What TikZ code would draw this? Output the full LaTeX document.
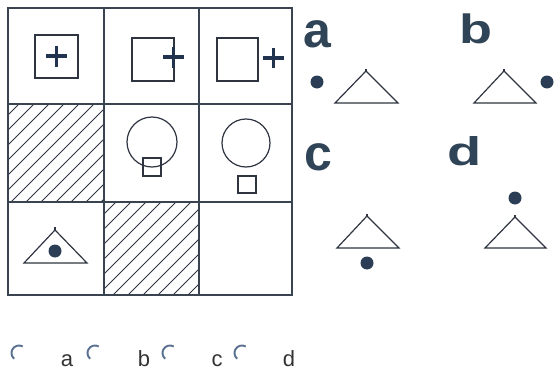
\documentclass[tikz,border=0pt]{standalone}
\usepackage{fontspec}
\setmainfont{Liberation Sans}
\begin{document}
\begin{tikzpicture}[x=1pt,y=-1pt,
  gridline/.style={draw=gridc,line width=2.8pt},
  thin/.style={draw=shapec,line width=1.2pt},
  hatch/.style={draw=shapec,line width=1pt},
  plus/.style={draw=plusc,line width=3.8pt},
  dot/.style={fill=dotc},
  optlabel/.style={font=\fontsize{50}{50}\selectfont\bfseries,text=labc,inner sep=0pt,anchor=base},
  radiolabel/.style={font=\fontsize{22}{22}\selectfont,text=radc,inner sep=0pt,anchor=base},
  radio/.style={draw=arcc,line width=1.9pt}]
\definecolor{gridc}{HTML}{3A4450}
\definecolor{shapec}{HTML}{2E3540}
\definecolor{plusc}{HTML}{22334F}
\definecolor{dotc}{HTML}{2B3E55}
\definecolor{labc}{HTML}{2F4456}
\definecolor{radc}{HTML}{333333}
\definecolor{arcc}{HTML}{5A7090}
\useasboundingbox (0,0) rectangle (555,372);
% hatching
\begin{scope}
  \clip (8,104) rectangle (104,202);
  \foreach \k in {-1,...,13}{
    \pgfmathsetmacro{\c}{123+15*\k}
    \draw[hatch] (\c-215,215) -- (\c-90,90);
  }
\end{scope}
\begin{scope}
  \clip (104,202) rectangle (199,295);
  \foreach \k in {-1,...,13}{
    \pgfmathsetmacro{\c}{318+15*\k}
    \draw[hatch] (\c-310,310) -- (\c-190,190);
  }
\end{scope}
% grid
\draw[gridline] (8,8) rectangle (292,295);
\draw[gridline] (104,8) -- (104,295);
\draw[gridline] (199,8) -- (199,295);
\draw[gridline] (8,104) -- (292,104);
\draw[gridline] (8,202) -- (292,202);
% row 1
\draw[thin] (35,35) rectangle (78,78);
\draw[plus] (46,56) -- (67,56) (56.5,46) -- (56.5,67);
\draw[thin] (132,38) rectangle (174,81);
\draw[plus] (163,57) -- (184,57) (173.5,47) -- (173.5,68);
\draw[thin] (217,38) rectangle (258,81);
\draw[plus] (263,58) -- (284,58) (273.5,48) -- (273.5,68);
% row 2
\draw[thin] (143,158) rectangle (161,176);
\draw[thin] (152,142) circle (25);
\draw[thin] (246,143) circle (24);
\draw[thin] (238,176) rectangle (256,193);
% row 3
\draw[thin] (24,263) -- (55,230) -- (87,263) -- cycle;
\draw[thin] (55,230) -- (55,227);
\fill[dot] (55,251) circle (6.5);
% options
\node[optlabel] (la) at (317.5,47) {a};
\node[optlabel] (lb) at (475.5,43) {\scalebox{1.08}[0.82]{b}};
\node[optlabel] (lc) at (318,170) {c};
\node[optlabel] (ld) at (464.5,165) {\scalebox{1.12}[0.8]{d}};
% a
\fill[dot] (317,82) circle (6.5);
\draw[thin] (335,103) -- (366,71) -- (398,103) -- cycle;
\draw[thin] (366,71) -- (366,69);
% b
\draw[thin] (474,103) -- (504,71) -- (536,103) -- cycle;
\draw[thin] (504,71) -- (504,69);
\fill[dot] (547,82) circle (6.5);
% c
\draw[thin] (337,248) -- (367,216) -- (399,248) -- cycle;
\draw[thin] (367,216) -- (367,214);
\fill[dot] (367,263) circle (6.5);
% d
\fill[dot] (515,198) circle (6.5);
\draw[thin] (485,248) -- (515,217) -- (546,248) -- cycle;
\draw[thin] (515,217) -- (515,215);
% radio row
\foreach \x in {19,95,170,242}{
  \draw[radio] ([shift={(60:7.5)}]\x,340) arc[start angle=-60,end angle=-230,radius=7.5];
}
\node[radiolabel] (ra) at (67,366) {a};
\node[radiolabel] (rb) at (144,366) {b};
\node[radiolabel] (rc) at (217,366) {c};
\node[radiolabel] (rd) at (289,366) {d};
\end{tikzpicture}
\end{document}
